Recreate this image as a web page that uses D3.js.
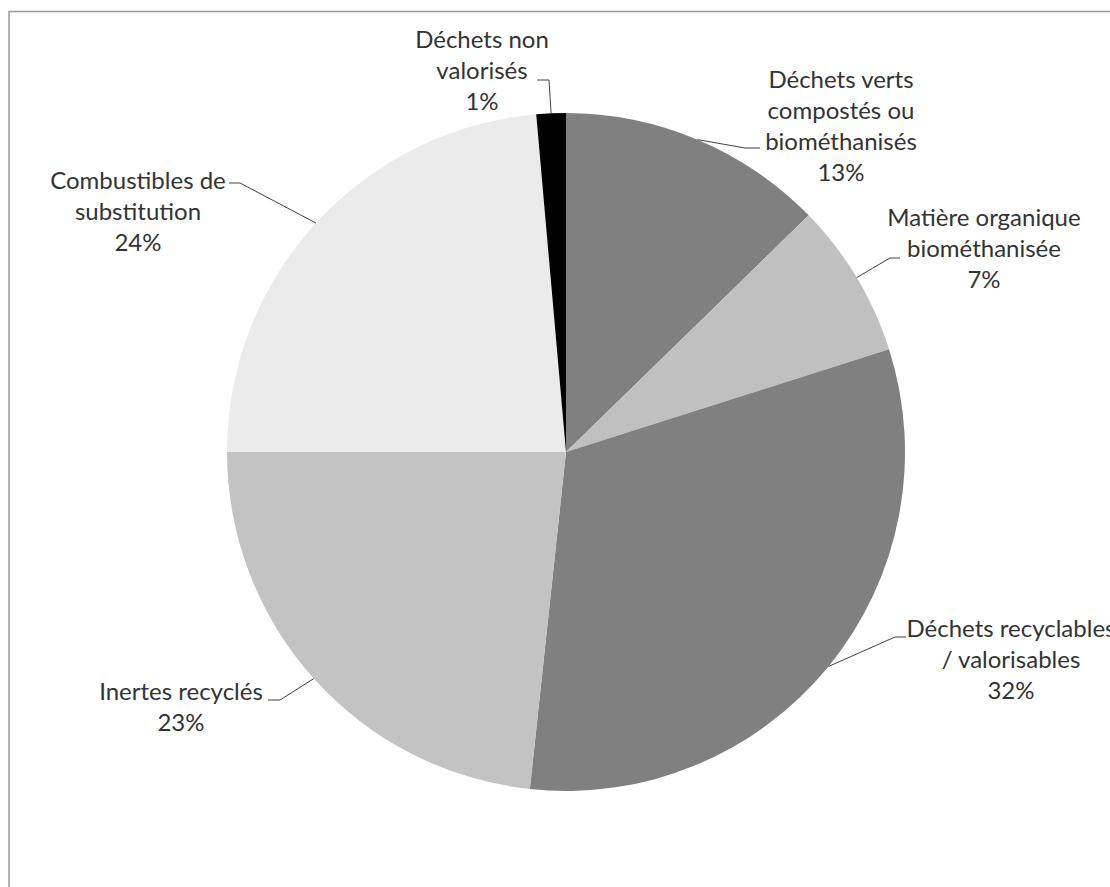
<!DOCTYPE html>
<html>
<head>
<meta charset="utf-8">
<script src="https://cdn.jsdelivr.net/npm/d3@7"></script>
<style>
  body { margin: 0; background: #fff; overflow: hidden; }
  text { font-family: Lato, "Open Sans", sans-serif; font-size: 24px; fill: #333; }
</style>
</head>
<body>
<div id="chart"></div>
<script>
// slice names (clockwise from 12 o'clock) and their shares in %
var categories = [
  ["Déchets verts", "compostés ou", "biométhanisés"],
  ["Matière organique", "biométhanisée"],
  ["Déchets recyclables", "/ valorisables"],
  ["Inertes recyclés"],
  ["Combustibles de", "substitution"],
  ["Déchets non", "valorisés"]
];
var values = [12.7, 7.4, 31.6, 23.3, 23.6, 1.4];
var colors = ["#808080", "#c0c0c0", "#808080", "#c3c3c3", "#ebebeb", "#000000"];

// label layout: text centre x, first line centre y, elbow x/y, elbow end x
var labelLayout = [
  {x: 841, y: 80,  ex: 745, ey: 148, hx: 760},
  {x: 984, y: 218, ex: 890, ey: 258, hx: 900},
  {x: 1011, y: 629, ex: 895, ey: 637, hx: 906},
  {x: 181, y: 692, ex: 280, ey: 700, hx: 268},
  {x: 138, y: 181, ex: 240, ey: 183, hx: 229},
  {x: 482, y: 40,  ex: 549, ey: 80,  hx: 537}
];

var width = 1110, height = 887;
var cx = 566, cy = 452, radius = 339;
var lineH = 31;

var svg = d3.select("#chart").append("svg")
  .attr("width", width)
  .attr("height", height);

// chart area frame
svg.append("rect")
  .attr("x", 9).attr("y", 11.5)
  .attr("width", 1300).attr("height", 1000)
  .attr("fill", "none")
  .attr("stroke", "#9a9a9a")
  .attr("stroke-width", 1.5);

var g = svg.append("g")
  .attr("transform", "translate(" + cx + "," + cy + ")");

var pie = d3.pie().sort(null).value(function(d) { return d; });
var arcs = pie(values);

var arc = d3.arc().innerRadius(0).outerRadius(radius);
var edge = d3.arc().innerRadius(radius).outerRadius(radius);

g.selectAll("path.slice")
  .data(arcs)
  .enter().append("path")
  .attr("class", "slice")
  .attr("d", arc)
  .attr("fill", function(d, i) { return colors[i]; });

// leader lines
g.selectAll("polyline")
  .data(arcs)
  .enter().append("polyline")
  .attr("fill", "none")
  .attr("stroke", "#404040")
  .attr("stroke-width", 1)
  .attr("points", function(d, i) {
    var p = edge.centroid(d), L = labelLayout[i];
    return [[p[0], p[1]], [L.ex - cx, L.ey - cy], [L.hx - cx, L.ey - cy]]
      .map(function(q) { return q.join(","); }).join(" ");
  });

// labels
var labels = svg.selectAll("text.label")
  .data(arcs)
  .enter().append("text")
  .attr("class", "label")
  .attr("text-anchor", "middle");

labels.each(function(d, i) {
  var t = d3.select(this), L = labelLayout[i];
  var lines = categories[i].concat([Math.round(values[i]) + "%"]);
  lines.forEach(function(s, k) {
    t.append("tspan")
      .attr("x", L.x)
      .attr("y", L.y + k * lineH)
      .attr("dy", "0.35em")
      .text(s);
  });
});
</script>
</body>
</html>
